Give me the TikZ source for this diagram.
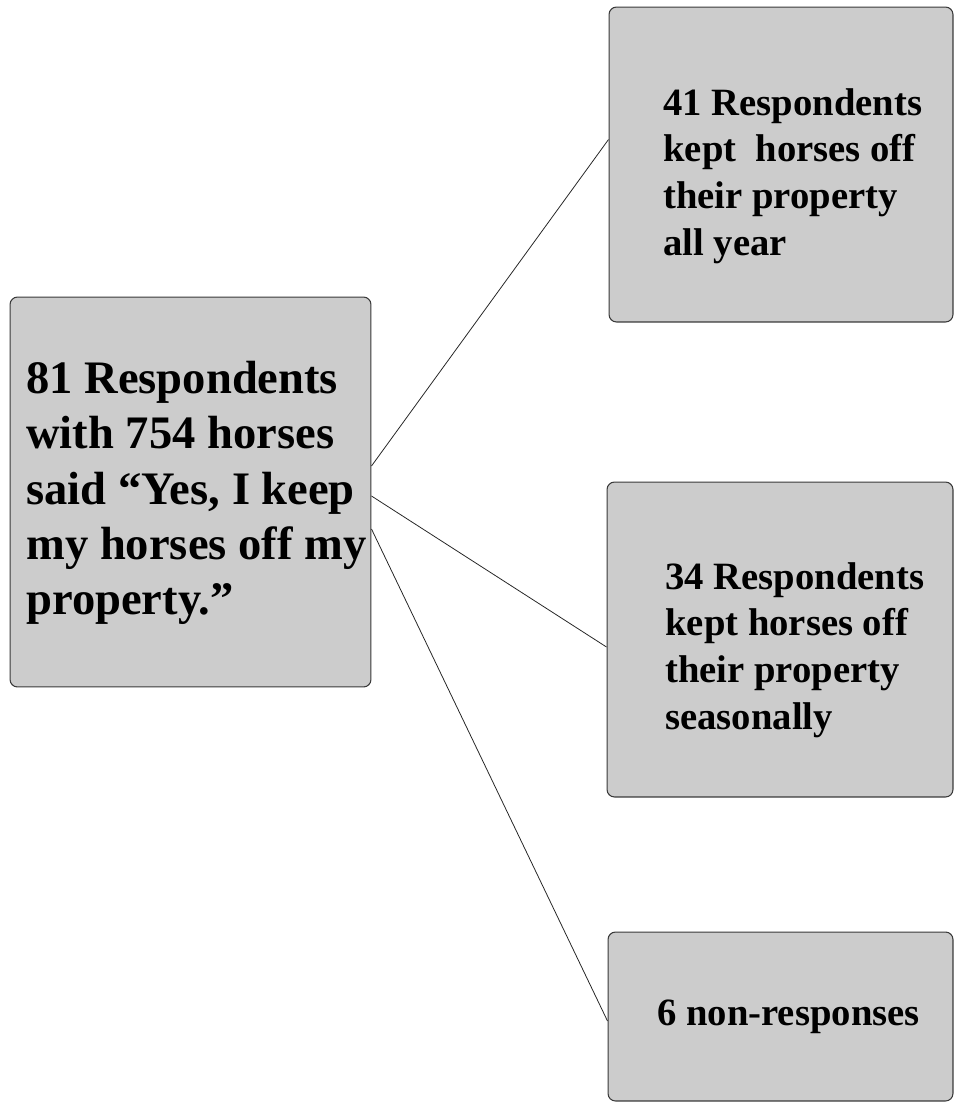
\documentclass[tikz,border=0pt]{standalone}
\usepackage{fontspec}
\setmainfont{Liberation Serif}
\usetikzlibrary{positioning}
\definecolor{boxgray}{HTML}{CCCCCC}
\definecolor{edgegray}{HTML}{3A3A3A}
\tikzstyle{box} = [rectangle, rounded corners=0.15cm, fill=boxgray, draw=edgegray, line width=0.6pt, inner sep=0pt]
\tikzstyle{link} = [black!85, line width=0.45pt]

\begin{document}
\begin{tikzpicture}[
    x=0.02cm, y=-0.02cm,
    bigtext/.style={align=left, font=\fontsize{26.5}{31.4}\selectfont\bfseries, inner sep=0pt, anchor=west},
    smalltext/.style={align=left, font=\fontsize{22}{26.6}\selectfont\bfseries, inner sep=0pt, anchor=west},
  ]
  \useasboundingbox (0,0) rectangle (955,1103);
  % boxes
  \node[box, minimum width=7.22cm, minimum height=7.8cm] (root) at (190.5,492) {};
  \node[box, minimum width=6.88cm, minimum height=6.3cm] (allyear) at (781,164.5) {};
  \node[box, minimum width=6.92cm, minimum height=6.3cm] (seasonal) at (780,639.5) {};
  \node[box, minimum width=6.9cm, minimum height=3.38cm] (nonresp) at (780.5,1016.5) {};

  % texts
  \node[bigtext] (roottext) at (26,493) {81 Respondents\\with 754 horses\\said “Yes, I keep\\my horses off my\\property.”};
  \node[smalltext] (allyeartext) at (663,176) {41 Respondents\\kept\ \ horses off\\their property\\all year};
  \node[smalltext] (seasonaltext) at (665,650) {34 Respondents\\kept horses off\\their property\\seasonally};
  \node[smalltext] (nonresptext) at (657,1017) {6 non-responses};

  % links
  \draw[link] ([yshift=0.52cm]root.east) -- ([yshift=0.5cm]allyear.west);
  \draw[link] ([yshift=-0.08cm]root.east) -- ([yshift=-0.15cm]seasonal.west);
  \draw[link] ([yshift=-0.74cm]root.east) -- ([yshift=-0.09cm]nonresp.west);
\end{tikzpicture}
\end{document}
